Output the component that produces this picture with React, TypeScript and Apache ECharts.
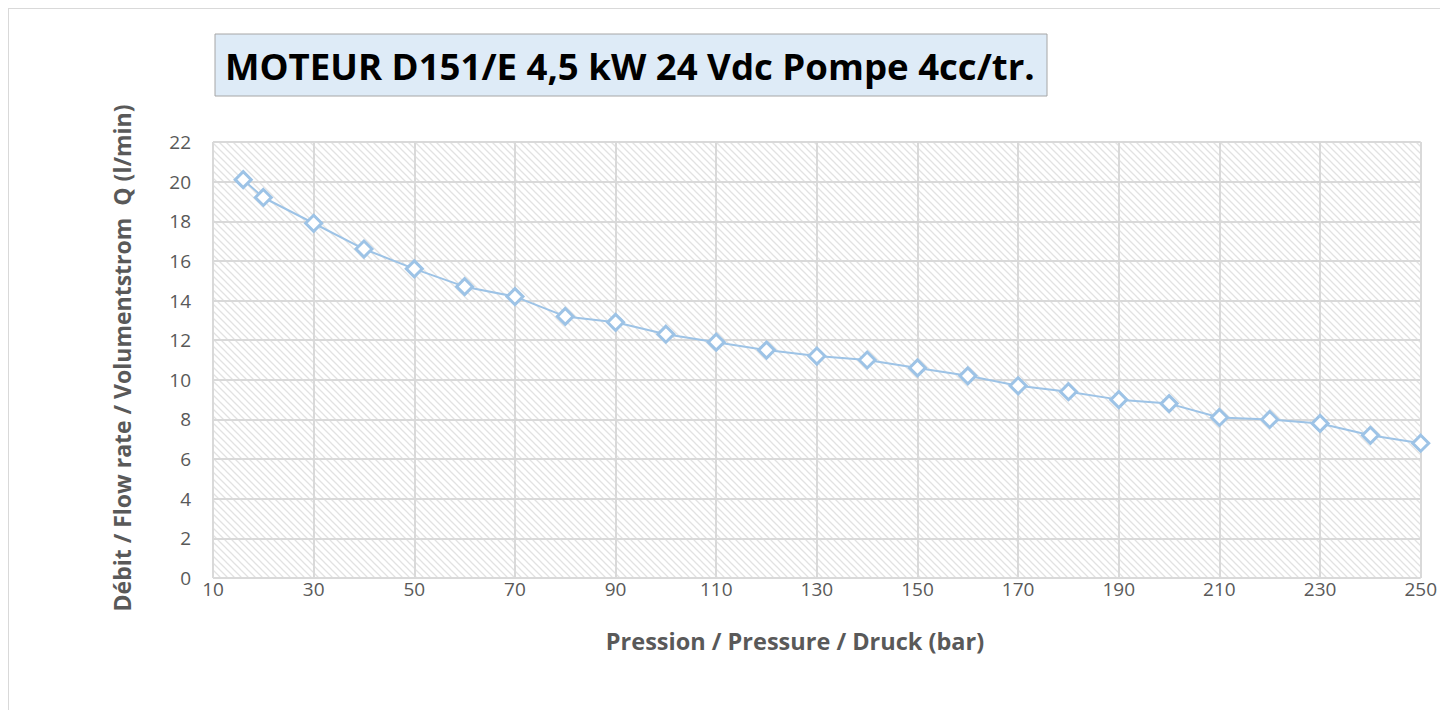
import React, { useEffect, useRef } from "react";
import * as echarts from "echarts";

const TITLE = "MOTEUR D151/E 4,5 kW 24 Vdc Pompe 4cc/tr.";
const X_TITLE = "Pression / Pressure / Druck (bar)";
const Y_TITLE = "Débit / Flow rate / Volumentstrom  Q (l/min)";

const pressure = [16, 20, 30, 40, 50, 60, 70, 80, 90, 100, 110, 120, 130, 140, 150, 160, 170, 180, 190, 200, 210, 220, 230, 240, 250];
const flow = [20.1, 19.2, 17.9, 16.6, 15.6, 14.7, 14.2, 13.2, 12.9, 12.3, 11.9, 11.5, 11.2, 11.0, 10.6, 10.2, 9.7, 9.4, 9.0, 8.8, 8.1, 8.0, 7.8, 7.2, 6.8];

const X_MIN = 10;
const X_MAX = 250;
const X_STEP = 20;
const Y_MIN = 0;
const Y_MAX = 22;
const Y_STEP = 2;

function makeHatch() {
  const c = document.createElement("canvas");
  c.width = 7;
  c.height = 7;
  const ctx = c.getContext("2d")!;
  ctx.fillStyle = "#ffffff";
  ctx.fillRect(0, 0, 7, 7);
  ctx.strokeStyle = "#e2e2e2";
  ctx.lineWidth = 1.3;
  ctx.beginPath();
  ctx.moveTo(-2, -2);
  ctx.lineTo(9, 9);
  ctx.moveTo(-2, 5);
  ctx.lineTo(2, 9);
  ctx.moveTo(5, -2);
  ctx.lineTo(9, 2);
  ctx.stroke();
  return c;
}

export default function App() {
  const ref = useRef<HTMLDivElement>(null);
  useEffect(() => {
    if (!ref.current) return;
    const chart = echarts.init(ref.current, undefined, { renderer: "svg" });
    const font = "'Open Sans', sans-serif";
    const data = pressure.map((p, i) => [p - X_MIN, flow[i]]);
    chart.setOption({
      animation: false,
      backgroundColor: "#ffffff",
      grid: {
        left: 204,
        top: 133,
        width: 1210,
        height: 436,
        show: true,
        borderWidth: 0,
        backgroundColor: { image: makeHatch(), repeat: "repeat" },
      },
      xAxis: {
        type: "value",
        min: 0,
        max: X_MAX - X_MIN,
        interval: X_STEP,
        axisLine: { show: false },
        axisTick: { show: false },
        splitLine: { show: true, lineStyle: { color: "#d9d9d9", width: 2 } },
        axisLabel: {
          color: "#595959",
          fontFamily: font,
          fontSize: 19,
          margin: 1,
          formatter: (v: number) => String(v + X_MIN),
        },
      },
      yAxis: {
        type: "value",
        min: Y_MIN,
        max: Y_MAX,
        interval: Y_STEP,
        axisLine: { show: false },
        axisTick: { show: false },
        splitLine: { show: true, lineStyle: { color: "#d9d9d9", width: 2 } },
        axisLabel: {
          color: "#595959",
          fontFamily: font,
          fontSize: 19,
          margin: 22,
        },
      },
      graphic: [
        {
          type: "rect",
          shape: { x: 206, y: 25, width: 832, height: 62 },
          style: { fill: "#deebf7", stroke: "#a6a6a6", lineWidth: 1 },
          z: 10,
        },
        {
          type: "text",
          x: 216,
          y: 57,
          style: {
            text: TITLE,
            fill: "#000000",
            font: `bold 36.6px ${font}`,
            textAlign: "left",
            textVerticalAlign: "middle",
          },
          z: 11,
        },
        {
          type: "text",
          x: 786,
          y: 632,
          style: {
            text: X_TITLE,
            fill: "#595959",
            font: `bold 23.5px ${font}`,
            textAlign: "center",
            textVerticalAlign: "middle",
          },
        },
        {
          type: "text",
          x: 113,
          y: 349,
          rotation: Math.PI / 2,
          style: {
            text: Y_TITLE,
            fill: "#595959",
            font: `bold 23px ${font}`,
            textAlign: "center",
            textVerticalAlign: "middle",
          },
        },
      ],
      series: [
        {
          type: "line",
          data,
          clip: false,
          symbol: "diamond",
          symbolSize: 16,
          showAllSymbol: true,
          lineStyle: { color: "#9dc3e6", width: 2 },
          itemStyle: { color: "#ffffff", borderColor: "#9dc3e6", borderWidth: 3 },
        },
      ],
    });
    return () => chart.dispose();
  }, []);
  return (
    <div
      style={{
        width: 1432,
        height: 702,
        borderTop: "1px solid #d9d9d9",
        borderLeft: "1px solid #d9d9d9",
        boxSizing: "border-box",
      }}
    >
      <div ref={ref} style={{ width: 1431, height: 701 }} />
    </div>
  );
}
